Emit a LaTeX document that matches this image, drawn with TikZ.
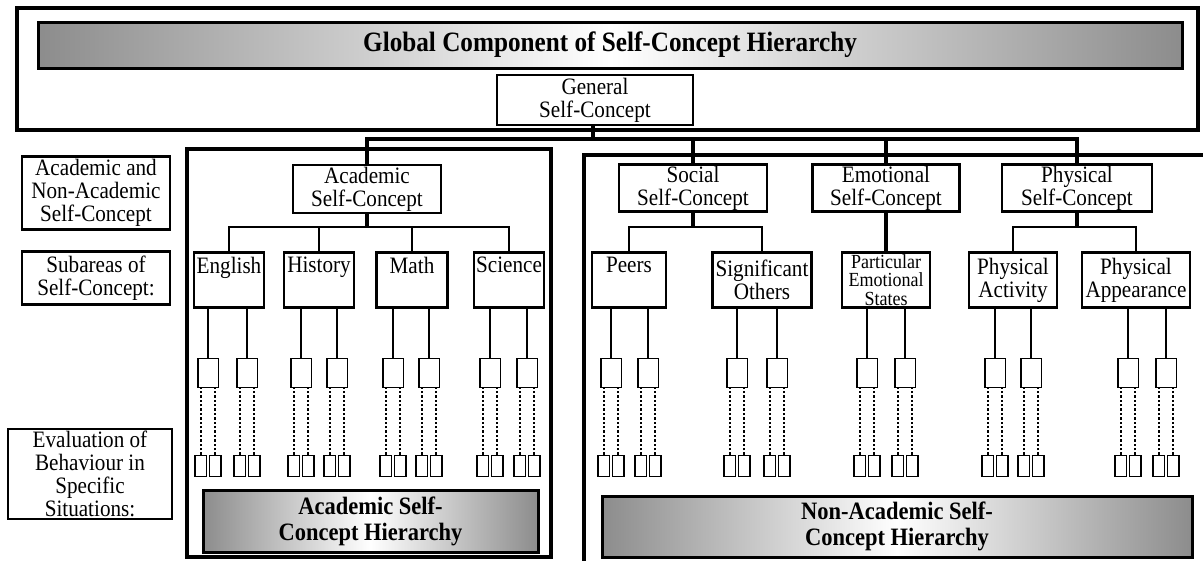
\documentclass[tikz,border=0pt]{standalone}
\usepackage{fontspec}
\setmainfont{Liberation Serif}[FakeStretch=0.9]
\tikzset{
  box/.style={draw, line width=2.5pt, inner sep=0pt, align=center, font=\fontsize{23.5}{23}\selectfont},
  sbox/.style={draw, line width=1.5pt, minimum width=20.5pt, minimum height=29pt, inner sep=0pt},
  tbox/.style={draw, line width=1.5pt, minimum width=11.5pt, minimum height=21pt, inner sep=0pt},
  bar/.style={draw, line width=3pt, inner sep=0pt, align=center, left color=gray!90, right color=gray!90, middle color=white, font=\bfseries\fontsize{25}{26}\selectfont},
  outline/.style={line width=4.5pt},
  trunk/.style={line width=4pt},
  twig/.style={line width=1.5pt},
  dotline/.style={line width=2.2pt, dash pattern=on 2.4pt off 2pt},
}
\begin{document}
\begin{tikzpicture}[x=1pt,y=-1pt]
  \useasboundingbox (0,0) rectangle (1203,560);
  % global component
  \draw[outline] (17,8) rectangle (1198,130);
  \node[bar, minimum width=1144pt, minimum height=46pt, font=\bfseries\fontsize{28}{30}\selectfont] (title) at (610,45) {Global Component of Self-Concept Hierarchy};
  \node[box, minimum width=196pt, minimum height=50pt] (gen) at (595,100) {General\\Self-Concept};
  % level labels
  \node[box, minimum width=148pt, minimum height=73pt] (lvla) at (96,193) {Academic and\\Non-Academic\\Self-Concept};
  \node[box, minimum width=148pt, minimum height=53pt] (lvlb) at (96,278) {Subareas of\\Self-Concept:};
  \node[box, minimum width=164pt, minimum height=90pt] (lvlc) at (90,474) {Evaluation of\\Behaviour in\\Specific\\Situations:};
  % hierarchy frames
  \draw[outline] (187,149) rectangle (551,557);
  \draw[outline] (1210,155) -| (584,565);
  % academic and non-academic
  \node[box, minimum width=148pt, minimum height=48pt] (aca) at (367,189) {Academic\\Self-Concept};
  \node[box, minimum width=148pt, minimum height=47pt] (soc) at (693,188) {Social\\Self-Concept};
  \node[box, minimum width=147pt, minimum height=47pt] (emo) at (886,188) {Emotional\\Self-Concept};
  \node[box, minimum width=150pt, minimum height=47pt] (phy) at (1077,188) {Physical\\Self-Concept};
  \coordinate (hub) at (593,139);
  \draw[trunk] (gen.south -| hub) -- (hub);
  \draw[trunk] (aca.north) |- (hub) -| (phy.north);
  \draw[trunk] (soc.north) -- (soc.north |- hub);
  \draw[trunk] (emo.north) -- (emo.north |- hub);
  % subareas
  \node[box, minimum width=70pt, minimum height=55pt] (eng) at (229,280) {English\\ \strut};
  \node[box, minimum width=70pt, minimum height=55pt] (his) at (319,280) {History\\ \strut};
  \node[box, minimum width=71pt, minimum height=55pt] (mat) at (412,280) {Math\\ \strut};
  \node[box, minimum width=70pt, minimum height=55pt] (sci) at (509,280) {Science\\ \strut};
  \node[box, minimum width=74pt, minimum height=55pt] (peer) at (629,280) {Peers\\ \strut};
  \node[box, minimum width=99pt, minimum height=55pt] (sig) at (762,280) {Significant\\Others};
  \node[box, minimum width=88pt, minimum height=55pt, font=\fontsize{20}{18.5}\selectfont] (part) at (886,280) {Particular\\Emotional\\States};
  \node[box, minimum width=88pt, minimum height=55pt] (pact) at (1013,280) {Physical\\Activity};
  \node[box, minimum width=108pt, minimum height=55pt] (papp) at (1136,280) {Physical\\Appearance};
  \coordinate (acab) at (367,227);
  \coordinate (socb) at (693,227);
  \coordinate (phyb) at (1077,227);
  \draw[trunk] (aca) -- (acab);
  \draw[twig] (eng.north) |- (acab) -| (sci.north);
  \draw[twig] (his.north) -- (his.north |- acab);
  \draw[twig] (mat.north) -- (mat.north |- acab);
  \draw[trunk] (soc) -- (socb);
  \draw[twig] (peer.north) |- (socb) -| (sig.north);
  \draw[trunk] (emo) -- (part);
  \draw[trunk] (phy) -- (phyb);
  \draw[twig] (pact.north) |- (phyb) -| (papp.north);
  % specific situations
  \foreach \x/\p [count=\i] in {208/eng, 247/eng, 301/his, 337/his, 393/mat, 429/mat, 490/sci, 527/sci,
      611/peer, 648/peer, 737/sig, 777/sig, 867/part, 905/part, 995/pact, 1031/pact, 1128/papp, 1166/papp} {
    \node[sbox] (s\i) at (\x,373) {};
    \draw[twig] (s\i.north) -- (s\i.north |- \p.south);
    \node[tbox] (ta\i) at (\x-7.3,466) {};
    \node[tbox] (tb\i) at (\x+7.3,466) {};
    \draw[dotline] (ta\i.north) -- (ta\i.north |- s\i.south);
    \draw[dotline] (tb\i.north) -- (tb\i.north |- s\i.south);
  }
  % hierarchy bars
  \node[bar, minimum width=335pt, minimum height=62pt] (acabar) at (370.5,521) {Academic Self-\\Concept Hierarchy};
  \node[bar, minimum width=590pt, minimum height=61pt] (nonbar) at (897,526.5) {Non-Academic Self-\\Concept Hierarchy};
\end{tikzpicture}
\end{document}
